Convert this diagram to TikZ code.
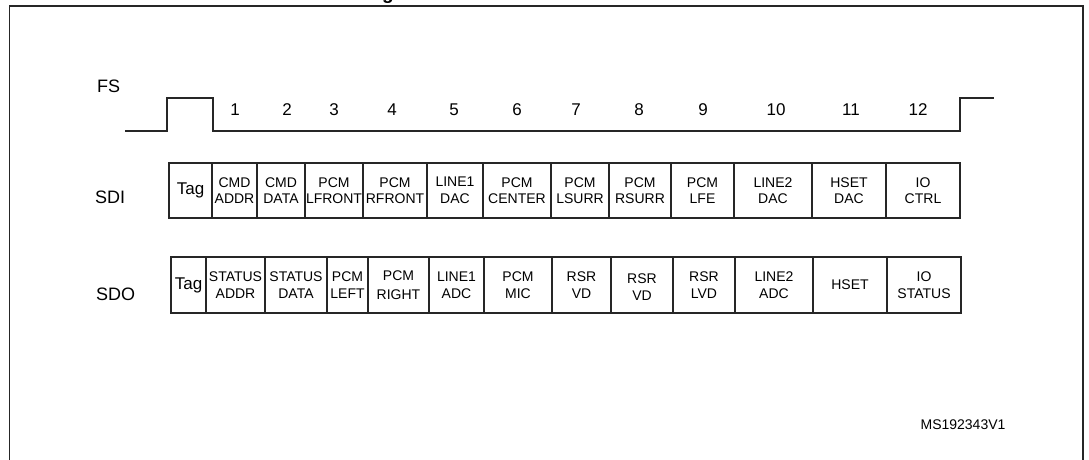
\documentclass[tikz,border=0pt]{standalone}
\usepackage{fontspec}
\setmainfont{Liberation Sans}

\begin{document}
\begin{tikzpicture} [x=1pt,y=-1pt,
  cell/.style= {draw=black!85,line width=1.1pt,inner sep=0,minimum height=55,align=center,font=\fontsize{14}{16.6}\selectfont},
  tag/.style= {cell,font=\fontsize{17}{20}\selectfont},
  sig/.style= {anchor=west,inner sep=0,font=\fontsize{18}{20}\selectfont},
  slotnum/.style= {anchor=base,inner sep=0,font=\fontsize{17}{20}\selectfont}]
  \useasboundingbox (0,0) rectangle (1089,460);
  % Frame
  \draw[line width=1.8pt,black!85] (9.5,470) -- (9.5,5.8) -- (1083,5.8) -- (1083,470);
  {\node[anchor=base west,inner sep=0,font=\bfseries\fontsize{19}{20}\selectfont] (title) at (382,-0.5) {g};}
  % FS
  {\node[sig] (FS) at (97,86.5) {FS};}
  \draw[line width=1.3pt,black!85] (125,131) -- (167,131) -- (167,98) -- (213,98) -- (213,131) -- (960,131) -- (960,98) -- (994,98);
  {\node[slotnum] (fs;1) at (235,115) {1};}
  {\node[slotnum] (fs;2) at (287,115) {2};}
  {\node[slotnum] (fs;3) at (334,115) {3};}
  {\node[slotnum] (fs;4) at (392,115) {4};}
  {\node[slotnum] (fs;5) at (454,115) {5};}
  {\node[slotnum] (fs;6) at (517,115) {6};}
  {\node[slotnum] (fs;7) at (576,115) {7};}
  {\node[slotnum] (fs;8) at (639,115) {8};}
  {\node[slotnum] (fs;9) at (703,115) {9};}
  {\node[slotnum] (fs;10) at (776,115) {10};}
  {\node[slotnum] (fs;11) at (851,115) {11};}
  {\node[slotnum] (fs;12) at (918,115) {12};}
  % SDI
  {\node[sig] (SDI) at (95,197) {SDI};}
  {\node[tag,minimum width={212-169}] (sdi;0) at ({(169+212)/2},190.5) {Tag};}
  {\node[cell,minimum width={257-212}] (sdi;1) at ({(212+257)/2},190.5) {CMD\\ADDR};}
  {\node[cell,minimum width={305-257}] (sdi;2) at ({(257+305)/2},190.5) {CMD\\DATA};}
  {\node[cell,minimum width={363-305}] (sdi;3) at ({(305+363)/2},190.5) {PCM\\LFRONT};}
  {\node[cell,minimum width={427-363}] (sdi;4) at ({(363+427)/2},190.5) {PCM\\RFRONT};}
  {\node[cell,minimum width={483-427}] (sdi;5) at ({(427+483)/2},190.5) {LINE1\\DAC};}
  {\node[cell,minimum width={551-483}] (sdi;6) at ({(483+551)/2},190.5) {PCM\\CENTER};}
  {\node[cell,minimum width={609-551}] (sdi;7) at ({(551+609)/2},190.5) {PCM\\LSURR};}
  {\node[cell,minimum width={671-609}] (sdi;8) at ({(609+671)/2},190.5) {PCM\\RSURR};}
  {\node[cell,minimum width={734-671}] (sdi;9) at ({(671+734)/2},190.5) {PCM\\LFE};}
  {\node[cell,minimum width={812-734}] (sdi;10) at ({(734+812)/2},190.5) {LINE2\\DAC};}
  {\node[cell,minimum width={886-812}] (sdi;11) at ({(812+886)/2},190.5) {HSET\\DAC};}
  {\node[cell,minimum width={960-886}] (sdi;12) at ({(886+960)/2},190.5) {IO\\CTRL};}
  % SDO
  {\node[sig] (SDO) at (96,294) {SDO};}
  {\node[tag,minimum width={206-171},minimum height=56] (sdo;0) at ({(171+206)/2},285) {Tag};}
  {\node[cell,minimum width={265-206},minimum height=56] (sdo;1) at ({(206+265)/2},285) {STATUS\\ADDR};}
  {\node[cell,minimum width={327-265},minimum height=56] (sdo;2) at ({(265+327)/2},285) {STATUS\\DATA};}
  {\node[cell,minimum width={368-327},minimum height=56] (sdo;3) at ({(327+368)/2},285) {PCM\\LEFT};}
  {\node[cell,minimum width={429-368},minimum height=56] (sdo;4) at ({(368+429)/2},285) {PCM\\[3pt]RIGHT};}
  {\node[cell,minimum width={484-429},minimum height=56] (sdo;5) at ({(429+484)/2},285) {LINE1\\ADC};}
  {\node[cell,minimum width={552-484},minimum height=56] (sdo;6) at ({(484+552)/2},285) {PCM\\MIC};}
  {\node[cell,minimum width={611-552},minimum height=56] (sdo;7) at ({(552+611)/2},285) {RSR\\VD};}
  {\node[cell,minimum width={673-611},minimum height=56] (sdo;8) at ({(611+673)/2},285) {\rule{0pt}{14.2pt}RSR\\VD};}
  {\node[cell,minimum width={735-673},minimum height=56] (sdo;9) at ({(673+735)/2},285) {RSR\\LVD};}
  {\node[cell,minimum width={813-735},minimum height=56] (sdo;10) at ({(735+813)/2},285) {LINE2\\ADC};}
  {\node[cell,minimum width={887-813},minimum height=56] (sdo;11) at ({(813+887)/2},285) {HSET};}
  {\node[cell,minimum width={961-887},minimum height=56] (sdo;12) at ({(887+961)/2},285) {IO\\STATUS};}
  % Code
  {\node[inner sep=0,font=\fontsize{14}{16}\selectfont] (code) at (963,425) {MS192343V1};}
\end{tikzpicture}
\end{document}
